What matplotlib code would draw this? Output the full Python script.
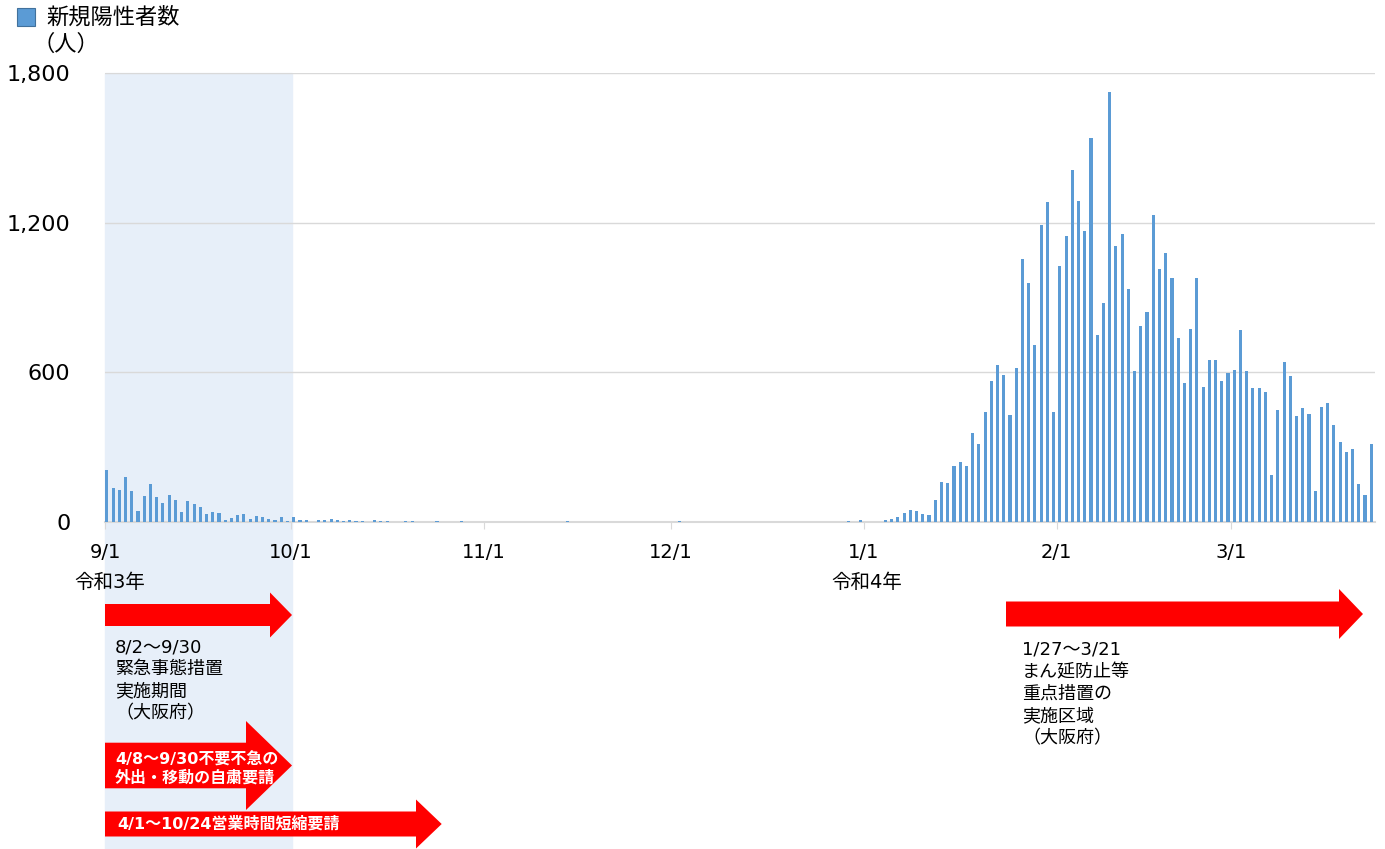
import numpy as np
import matplotlib
matplotlib.use('Agg')
import matplotlib.pyplot as plt
from matplotlib.patches import Polygon, Rectangle
from matplotlib.transforms import blended_transform_factory
from matplotlib.ticker import FuncFormatter

plt.rcParams['font.family'] = ['DejaVu Sans', 'Noto Sans CJK JP']

# daily new positive cases from 2021-09-01
start = np.datetime64('2021-09-01')
cases = [
    210, 135, 130, 180, 126, 43, 106, 154, 100, 75,
    110, 87, 39, 83, 73, 59, 31, 39, 35, 9,
    16, 28, 33, 12, 24, 19, 11, 9, 19, 6,
    20, 7, 7, 0, 7, 9, 11, 8, 5, 7,
    3, 5, 0, 7, 3, 4, 1, 1, 4, 4,
    1, 1, 1, 3, 1, 1, 1, 3, 1, 1,
    2, 1, 1, 1, 1, 1, 1, 2, 1, 2,
    1, 2, 1, 1, 3, 1, 1, 1, 1, 1,
    1, 2, 1, 1, 1, 2, 1, 2, 1, 1,
    1, 1, 4, 1, 1, 1, 1, 1, 1, 1,
    1, 2, 1, 1, 1, 1, 1, 1, 2, 1,
    1, 1, 1, 1, 1, 1, 2, 1, 1, 3,
    1, 8, 0, 0, 1, 8, 13, 19, 37, 48,
    45, 31, 28, 90, 159, 156, 223, 239, 223, 357,
    315, 441, 567, 631, 591, 429, 620, 1055, 958, 710,
    1192, 1286, 440, 1027, 1149, 1414, 1290, 1168, 1543, 749,
    878, 1724, 1108, 1155, 934, 606, 786, 841, 1232, 1015,
    1079, 981, 739, 558, 773, 981, 542, 650, 650, 565,
    596, 611, 772, 607, 538, 538, 521, 189, 451, 641,
    585, 424, 458, 432, 123, 462, 478, 388, 322, 282,
    293, 152, 107, 314,
]
month_starts = ['2021-09-01', '2021-10-01', '2021-11-01', '2021-12-01',
                '2022-01-01', '2022-02-01', '2022-03-01']
month_labels = ['9/1', '10/1', '11/1', '12/1', '1/1', '2/1', '3/1']
year_labels = ['令和3年', '令和4年']
y_ticks = [0, 600, 1200, 1800]
legend_label = '新規陽性者数'
unit_label = '（人）'

left_note = ['8/2～9/30', '緊急事態措置', '実施期間', '（大阪府）']
right_note = ['1/27～3/21', 'まん延防止等', '重点措置の', '実施区域', '（大阪府）']
arrow2_text = ['4/8～9/30不要不急の', '外出・移動の自粛要請']
arrow3_text = '4/1～10/24営業時間短縮要請'

days = np.arange(len(cases))
tick_pos = [int((np.datetime64(m) - start).astype(int)) - 0.5 for m in month_starts]
x_left, x_right = -0.3, 203.6
tick_pos[0] = x_left

W, H = 1385, 849
fig = plt.figure(figsize=(W / 100, H / 100), dpi=100)
ax = fig.add_axes([105 / W, 1 - 522 / H, 1270 / W, 449 / H])
ax.set_xlim(x_left, x_right)
ax.set_ylim(0, 1802)

# shaded emergency period (down through the annotation area)
trans = blended_transform_factory(ax.transData, ax.transAxes)
ax.add_patch(Rectangle((x_left, -0.728), 30.0, 1.728, transform=trans,
                       color='#E7EFF9', clip_on=False, zorder=0))

ax.bar(days, cases, width=0.5, color='#5B9BD5', zorder=3)

ax.set_yticks(y_ticks)
ax.yaxis.set_major_formatter(FuncFormatter(lambda v, p: f'{int(v):,}'))
ax.yaxis.grid(True, color='#D9D9D9', lw=1, zorder=1)
ax.set_xticks(tick_pos)
ax.set_xticklabels(month_labels)
for s in ['top', 'right', 'left']:
    ax.spines[s].set_visible(False)
ax.spines['bottom'].set_color('#D9D9D9')
ax.spines['bottom'].set_linewidth(1.5)
ax.tick_params(axis='x', length=5, color='#D9D9D9', labelsize=14, pad=10)
ax.tick_params(axis='y', length=0, labelsize=16, pad=25)
ax.patch.set_alpha(0)

# overlay in pixel coordinates for annotations
ov = fig.add_axes([0, 0, 1, 1])
ov.set_xlim(0, W)
ov.set_ylim(H, 0)
ov.axis('off')
ov.patch.set_alpha(0)


def block_arrow(x0, xh, xt, yc, sh, hh):
    pts = [(x0, yc - sh / 2), (xh, yc - sh / 2), (xh, yc - hh / 2), (xt, yc),
           (xh, yc + hh / 2), (xh, yc + sh / 2), (x0, yc + sh / 2)]
    ov.add_patch(Polygon(pts, closed=True, fc='#FF0000', ec='none'))


block_arrow(105, 270, 292, 615, 22, 45)
block_arrow(105, 246, 292, 765.5, 45.6, 89)
block_arrow(105, 416, 441.7, 824, 25, 49)
block_arrow(1006, 1339, 1363, 614, 25, 50)

# legend
ov.add_patch(Rectangle((17, 8), 18, 18, fc='#5B9BD5', ec='#41719C', lw=0.8))
ov.text(46, 17, legend_label, fontsize=16, va='center')
ov.text(32, 44, unit_label, fontsize=16, va='center')

ov.text(110, 582, year_labels[0], fontsize=14, ha='center', va='center')
ov.text(867, 583, year_labels[1], fontsize=14, ha='center', va='center')

for i, line in enumerate(left_note):
    ov.text(115, 647 + i * 22, line, fontsize=13, va='center')
for i, line in enumerate(right_note):
    ov.text(1022, 650 + i * 22, line, fontsize=13, va='center')
for i, line in enumerate(arrow2_text):
    ov.text(115, 760 + i * 18, line, fontsize=11.5, fontweight='bold',
            color='white', va='center')
ov.text(117, 824, arrow3_text, fontsize=11.5, fontweight='bold',
        color='white', va='center')

fig.savefig('out.png', dpi=100)
